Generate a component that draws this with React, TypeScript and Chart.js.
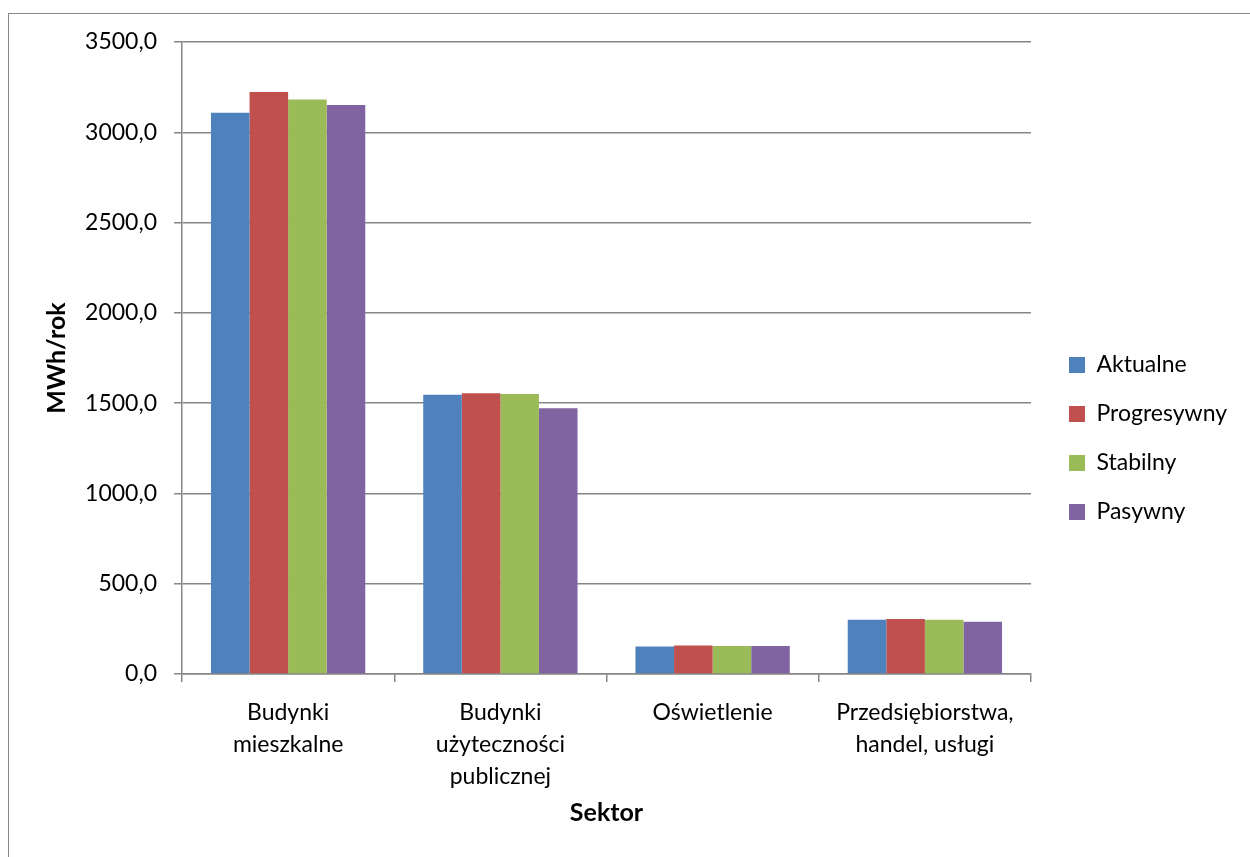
import React, { useEffect, useRef } from "react";
import { Chart, registerables } from "chart.js";

Chart.register(...registerables);

const categories: string[][] = [
  ["Budynki", "mieszkalne"],
  ["Budynki", "użyteczności", "publicznej"],
  ["Oświetlenie"],
  ["Przedsiębiorstwa,", "handel, usługi"],
];
const seriesNames = ["Aktualne", "Progresywny", "Stabilny", "Pasywny"];
const aktualne = [3108, 1546, 152, 300];
const progresywny = [3223, 1555, 158, 305];
const stabilny = [3182, 1550, 155, 300];
const pasywny = [3151, 1472, 155, 290];
const seriesColors = ["#4F81BD", "#C0504D", "#9BBB59", "#8064A2"];
const yTicks = [0, 500, 1000, 1500, 2000, 2500, 3000, 3500];
const yTitle = "MWh/rok";
const xTitle = "Sektor";

const FONT = "Lato";
const FS = 23;
const GRID = "#868686";

export default function App() {
  const ref = useRef<HTMLCanvasElement | null>(null);

  useEffect(() => {
    const canvas = ref.current;
    if (!canvas) return;
    const ctx = canvas.getContext("2d")!;
    ctx.font = `${FS}px ${FONT}`;
    const maxText = Math.max(...seriesNames.map((n) => ctx.measureText(n).width));
    const legendPad = 26;
    const boxW = 16;
    const legendW = legendPad + boxW + FS / 2 + maxText + 10;
    const legendLeft = 1043;
    const padRight = Math.max(0, 1250 - legendLeft - legendW);

    const values = [aktualne, progresywny, stabilny, pasywny];
    const chart = new Chart(canvas, {
      type: "bar",
      data: {
        labels: categories,
        datasets: seriesNames.map((name, i) => ({
          label: name,
          data: values[i],
          backgroundColor: seriesColors[i],
          borderWidth: 0,
          categoryPercentage: 0.727,
          barPercentage: 1,
        })),
      },
      options: {
        animation: false,
        responsive: false,
        devicePixelRatio: 1,
        layout: { padding: { top: 42, bottom: 22, left: 0, right: padRight } },
        plugins: {
          tooltip: { enabled: false },
          legend: {
            position: "right",
            align: "center",
            labels: {
              boxWidth: boxW,
              boxHeight: 16,
              padding: legendPad,
              color: "#000",
              font: { family: FONT, size: FS },
            },
          },
        },
        scales: {
          x: {
            type: "category",
            grid: {
              display: true,
              drawOnChartArea: false,
              offset: true,
              tickLength: 8,
              color: GRID,
              lineWidth: 1.5,
            },
            border: { display: true, color: GRID, width: 1.5 },
            ticks: {
              color: "#000",
              padding: 15,
              maxRotation: 0,
              autoSkip: false,
              font: { family: FONT, size: FS, lineHeight: 32 / 23 },
            },
            title: {
              display: true,
              text: xTitle,
              color: "#000",
              font: { family: FONT, size: 25, weight: "bold" },
              padding: { top: 0, bottom: 7 },
            },
            afterFit: (s: any) => {
              s.height = 161;
            },
          },
          y: {
            type: "linear",
            min: yTicks[0],
            max: yTicks[yTicks.length - 1],
            afterBuildTicks: (s: any) => {
              s.ticks = yTicks.map((v) => ({ value: v }));
            },
            grid: { color: GRID, lineWidth: 1.5, tickLength: 8 },
            border: { display: true, color: GRID, width: 1.5 },
            ticks: {
              color: "#000",
              padding: 17,
              font: { family: FONT, size: FS },
              callback: (v: any) => Number(v).toFixed(1).replace(".", ","),
            },
            title: {
              display: true,
              text: yTitle,
              color: "#000",
              font: { family: FONT, size: 25, weight: "bold" },
              padding: { top: 42, bottom: 0 },
            },
            afterFit: (s: any) => {
              s.width = 182;
            },
          },
          y2: {
            type: "linear",
            position: "right",
            display: true,
            grid: { display: false },
            border: { display: false },
            ticks: { display: false },
            afterFit: (s: any) => {
              s.width = legendLeft - 1031;
            },
          },
        },
      },
    });
    return () => chart.destroy();
  }, []);

  return (
    <div style={{ position: "absolute", left: 0, top: 0, width: 1250, height: 857, overflow: "hidden", background: "#fff" }}>
      <div
        style={{
          position: "absolute",
          left: 8,
          top: 13,
          width: 1300,
          height: 900,
          borderLeft: "1.5px solid #8a8a8a",
          borderTop: "1.5px solid #8a8a8a",
        }}
      />
      <canvas ref={ref} width={1250} height={857} style={{ position: "absolute", left: 0, top: 0, width: 1250, height: 857 }} />
    </div>
  );
}
